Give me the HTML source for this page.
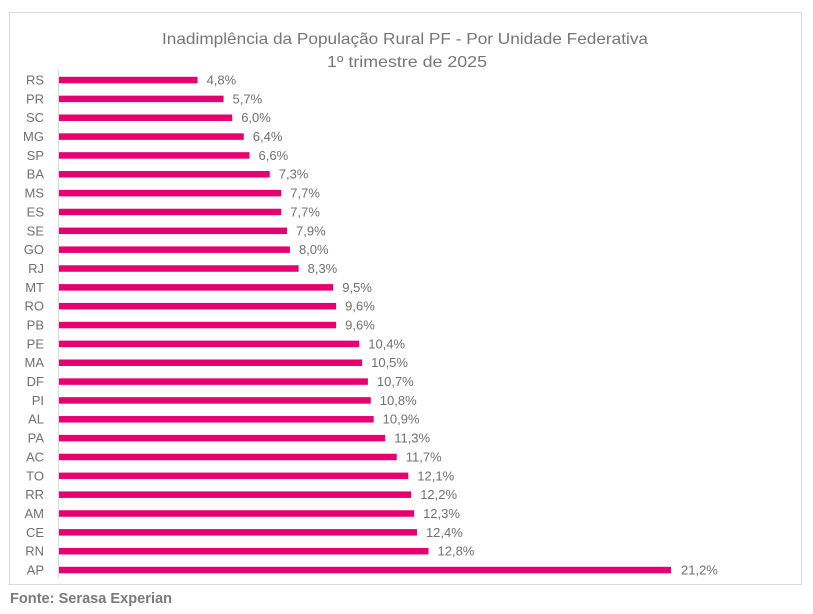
<!DOCTYPE html>
<html><head><meta charset="utf-8"><style>
html,body{margin:0;padding:0;background:#fff;}
svg{display:block;}
.l{font-size:13px;fill:#707070;text-anchor:end;}
.v{font-size:13px;fill:#707070;}
</style></head><body>
<svg width="813" height="614" xmlns="http://www.w3.org/2000/svg" font-family="Liberation Sans, sans-serif">
<rect x="9.5" y="12.5" width="792" height="572" fill="#fff" stroke="#d9d9d9" stroke-width="1"/>
<text x="162" y="44" font-size="16" fill="#767676" textLength="486" lengthAdjust="spacingAndGlyphs">Inadimplência da População Rural PF - Por Unidade Federativa</text>
<text x="327" y="67" font-size="16" fill="#767676" textLength="160" lengthAdjust="spacingAndGlyphs">1º trimestre de 2025</text>
<line x1="58.5" y1="70" x2="58.5" y2="578" stroke="#d9d9d9" stroke-width="1"/>
<g fill="#e6006f">
<rect x="59" y="76.8" width="138.57" height="6.5"/>
<rect x="59" y="95.65" width="164.55" height="6.5"/>
<rect x="59" y="114.49" width="173.21" height="6.5"/>
<rect x="59" y="133.34" width="184.76" height="6.5"/>
<rect x="59" y="152.18" width="190.53" height="6.5"/>
<rect x="59" y="171.03" width="210.74" height="6.5"/>
<rect x="59" y="189.88" width="222.28" height="6.5"/>
<rect x="59" y="208.72" width="222.28" height="6.5"/>
<rect x="59" y="227.57" width="228.06" height="6.5"/>
<rect x="59" y="246.42" width="230.94" height="6.5"/>
<rect x="59" y="265.26" width="239.61" height="6.5"/>
<rect x="59" y="284.11" width="274.25" height="6.5"/>
<rect x="59" y="302.95" width="277.13" height="6.5"/>
<rect x="59" y="321.8" width="277.13" height="6.5"/>
<rect x="59" y="340.65" width="300.23" height="6.5"/>
<rect x="59" y="359.49" width="303.11" height="6.5"/>
<rect x="59" y="378.34" width="308.89" height="6.5"/>
<rect x="59" y="397.18" width="311.77" height="6.5"/>
<rect x="59" y="416.03" width="314.66" height="6.5"/>
<rect x="59" y="434.88" width="326.21" height="6.5"/>
<rect x="59" y="453.72" width="337.76" height="6.5"/>
<rect x="59" y="472.57" width="349.3" height="6.5"/>
<rect x="59" y="491.42" width="352.19" height="6.5"/>
<rect x="59" y="510.26" width="355.08" height="6.5"/>
<rect x="59" y="529.11" width="357.96" height="6.5"/>
<rect x="59" y="547.95" width="369.51" height="6.5"/>
<rect x="59" y="566.8" width="612" height="6.5"/>
</g>
<g>
<text class="l" x="44" y="84.5">RS</text>
<text class="l" x="44" y="103.35">PR</text>
<text class="l" x="44" y="122.19">SC</text>
<text class="l" x="44" y="141.04">MG</text>
<text class="l" x="44" y="159.88">SP</text>
<text class="l" x="44" y="178.73">BA</text>
<text class="l" x="44" y="197.58">MS</text>
<text class="l" x="44" y="216.42">ES</text>
<text class="l" x="44" y="235.27">SE</text>
<text class="l" x="44" y="254.12">GO</text>
<text class="l" x="44" y="272.96">RJ</text>
<text class="l" x="44" y="291.81">MT</text>
<text class="l" x="44" y="310.65">RO</text>
<text class="l" x="44" y="329.5">PB</text>
<text class="l" x="44" y="348.35">PE</text>
<text class="l" x="44" y="367.19">MA</text>
<text class="l" x="44" y="386.04">DF</text>
<text class="l" x="44" y="404.88">PI</text>
<text class="l" x="44" y="423.73">AL</text>
<text class="l" x="44" y="442.58">PA</text>
<text class="l" x="44" y="461.42">AC</text>
<text class="l" x="44" y="480.27">TO</text>
<text class="l" x="44" y="499.12">RR</text>
<text class="l" x="44" y="517.96">AM</text>
<text class="l" x="44" y="536.81">CE</text>
<text class="l" x="44" y="555.65">RN</text>
<text class="l" x="44" y="574.5">AP</text>
</g>
<g>
<text class="v" x="206.57" y="84.5">4,8%</text>
<text class="v" x="232.55" y="103.35">5,7%</text>
<text class="v" x="241.21" y="122.19">6,0%</text>
<text class="v" x="252.76" y="141.04">6,4%</text>
<text class="v" x="258.53" y="159.88">6,6%</text>
<text class="v" x="278.74" y="178.73">7,3%</text>
<text class="v" x="290.28" y="197.58">7,7%</text>
<text class="v" x="290.28" y="216.42">7,7%</text>
<text class="v" x="296.06" y="235.27">7,9%</text>
<text class="v" x="298.94" y="254.12">8,0%</text>
<text class="v" x="307.61" y="272.96">8,3%</text>
<text class="v" x="342.25" y="291.81">9,5%</text>
<text class="v" x="345.13" y="310.65">9,6%</text>
<text class="v" x="345.13" y="329.5">9,6%</text>
<text class="v" x="368.23" y="348.35">10,4%</text>
<text class="v" x="371.11" y="367.19">10,5%</text>
<text class="v" x="376.89" y="386.04">10,7%</text>
<text class="v" x="379.77" y="404.88">10,8%</text>
<text class="v" x="382.66" y="423.73">10,9%</text>
<text class="v" x="394.21" y="442.58">11,3%</text>
<text class="v" x="405.76" y="461.42">11,7%</text>
<text class="v" x="417.3" y="480.27">12,1%</text>
<text class="v" x="420.19" y="499.12">12,2%</text>
<text class="v" x="423.08" y="517.96">12,3%</text>
<text class="v" x="425.96" y="536.81">12,4%</text>
<text class="v" x="437.51" y="555.65">12,8%</text>
<text class="v" x="681" y="574.5">21,2%</text>
</g>
<text x="10" y="603" font-size="14.5" font-weight="bold" fill="#7a7a7a" textLength="162" lengthAdjust="spacingAndGlyphs">Fonte: Serasa Experian</text>
</svg>
</body></html>
